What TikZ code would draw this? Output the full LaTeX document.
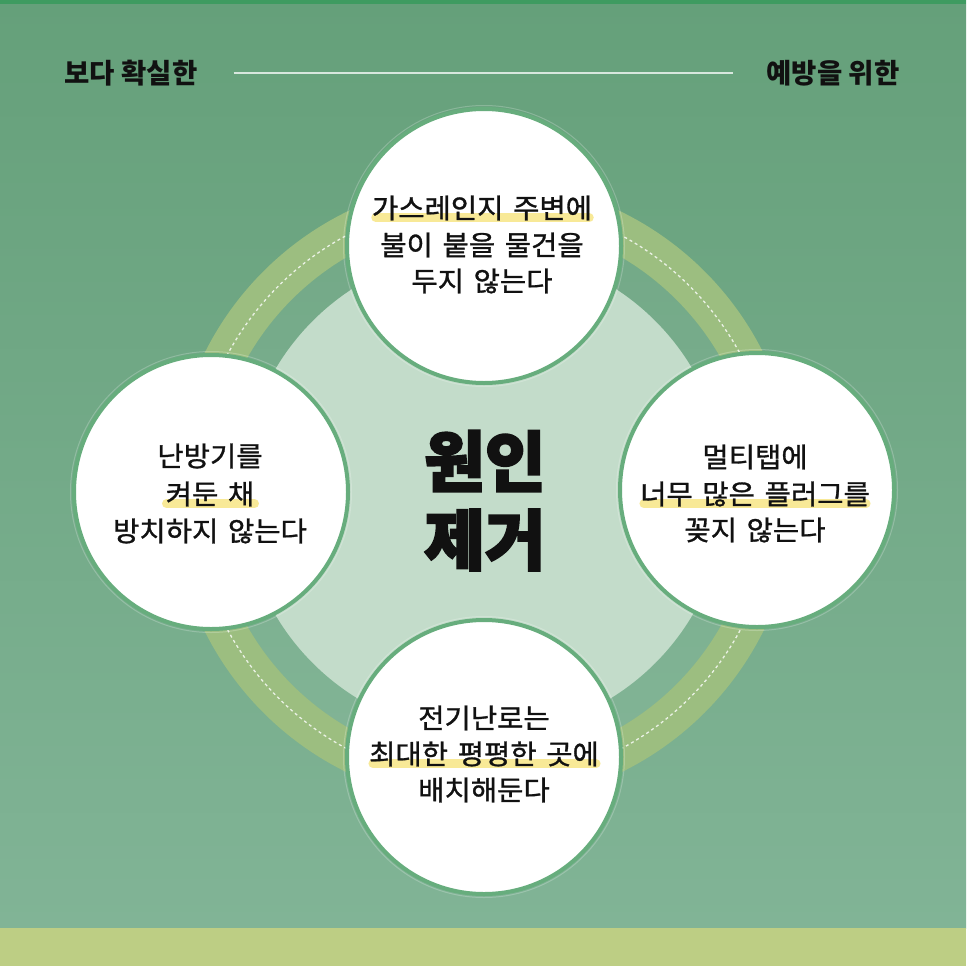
\documentclass[tikz,border=0pt]{standalone}
\usepackage{fontspec}
\newfontfamily\krtext{Noto Sans CJK KR}[FakeStretch=1.04, WordSpace=1.5, FakeBold=1.1]
\newfontfamily\krhead{Noto Sans CJK KR}[FakeStretch=1.0]
\newfontfamily\krheavy{Noto Sans CJK KR}[BoldFeatures={FakeBold=3}]
\definecolor{bgtop}{HTML}{65A07A}
\definecolor{bgbot}{HTML}{81B496}
\definecolor{topline}{HTML}{3E9B60}
\definecolor{bandbot}{HTML}{BDCE84}
\definecolor{innerlight}{HTML}{C3DCCA}
\definecolor{ringband}{HTML}{9CBE80}
\definecolor{bubbleline}{HTML}{67AD7D}
\definecolor{hlcol}{HTML}{F8E78C}
\definecolor{inkcol}{HTML}{111111}
\pgfdeclarelayer{hl}
\pgfdeclarelayer{fg}
\pgfsetlayers{main,hl,fg}
\tikzset{
  headtxt/.style={font=\krhead\bfseries\fontsize{27.5}{30}\selectfont, text=inkcol, inner sep=0pt},
  headline/.style={draw=white, draw opacity=0.75, line width=1.8pt},
  bubble/.style={circle, fill=white, draw=bubbleline, line width=4pt, minimum size=274pt, inner sep=0pt},
  bubblehalo/.style={draw=white, draw opacity=0.22, line width=1pt},
  ctext/.style={font=\krtext\fontsize{27.5}{33}\selectfont, text=inkcol, inner sep=0pt},
  bigtxt/.style={font=\krheavy\bfseries\fontsize{66}{70}\selectfont, text=inkcol, inner sep=0pt},
  hlstroke/.style={draw=hlcol, line width=9pt, line cap=round, draw opacity=0.9},
  dashring/.style={draw=white, draw opacity=0.8, line width=1.3pt, dash pattern=on 3pt off 3pt},
}
\begin{document}
\begin{tikzpicture}[x=1pt,y=-1pt]
\useasboundingbox (0,0) rectangle (966,966);
% background
\shade[top color=bgtop, bottom color=bgbot] (0,0) rectangle (966,928);
\fill[topline] (0,0) rectangle (966,4);
\fill[bandbot] (0,928) rectangle (966,966);
% header
\node[headtxt] (h1) at (131,73) {보다 확실한};
\node[headtxt] (h2) at (833,73) {예방을 위한};
\draw[headline] ([xshift=36pt]h1.east) -- ([xshift=-33pt]h2.west);
% rings
\coordinate (O) at (484,492);
\fill[white, opacity=0.05] (O) circle[radius=272];
\draw[ringband, line width=40pt] (O) circle[radius=292];
\draw[dashring] (O) circle[radius=291];
\fill[innerlight] (O) circle[radius=242];
% center title
\node[bigtxt] (c1) at (485,461) {원인};
\node[bigtxt] (c2) at (485,540) {제거};
% bubbles
\foreach \n/\x/\y in {btop/484/246, bleft/211/492, bright/757/490, bbot/484/757}{
  \draw[bubblehalo] (\x,\y) circle[radius=140.5];
  \node[bubble] (\n) at (\x,\y) {};
}
\begin{pgfonlayer}{fg}
\node[ctext] (ta) at (482,208) {가스레인지 주변에};
\node[ctext] (tb) at (482,245) {불이 붙을 물건을};
\node[ctext] (tc) at (482,281) {두지 않는다};
\node[ctext] (la) at (210,456) {난방기를};
\node[ctext] (lb) at (210,494) {켜둔 채};
\node[ctext] (lc) at (210,531) {방치하지 않는다};
\node[ctext] (ra) at (755,457) {멀티탭에};
\node[ctext] (rb) at (755,494) {너무 많은 플러그를};
\node[ctext] (rc) at (755,530) {꽂지 않는다};
\node[ctext] (ba) at (484,718) {전기난로는};
\node[ctext] (bb) at (484,754) {최대한 평평한 곳에};
\node[ctext] (bc) at (484,790) {배치해둔다};
\end{pgfonlayer}
\begin{pgfonlayer}{hl}
\draw[hlstroke] ([xshift=4pt,yshift=3pt]ta.south west) -- ([xshift=-3pt,yshift=3pt]ta.south east);
\draw[hlstroke] ([xshift=1pt,yshift=3pt]lb.south west) -- ([xshift=0pt,yshift=3pt]lb.south east);
\draw[hlstroke] ([xshift=4pt,yshift=3pt]rb.south west) -- ([xshift=-4pt,yshift=3pt]rb.south east);
\draw[hlstroke] ([xshift=4pt,yshift=3pt]bb.south west) -- ([xshift=-3pt,yshift=3pt]bb.south east);
\end{pgfonlayer}
\end{tikzpicture}
\end{document}
